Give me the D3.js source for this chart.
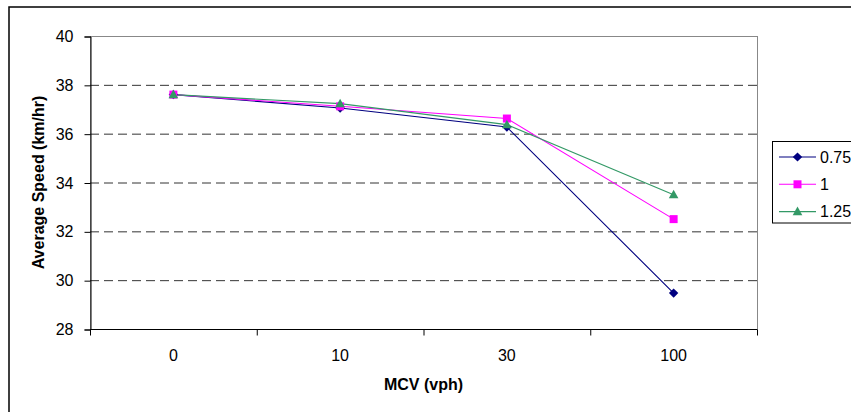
<!DOCTYPE html>
<html><head><meta charset="utf-8">
<script src="https://cdn.jsdelivr.net/npm/d3@7"></script>
<style>body{margin:0;background:#fff}svg{display:block;font-family:"Liberation Sans",Arial,sans-serif}</style>
</head><body><svg id="c" width="851" height="412"></svg>
<script>
const categories = ["0", "10", "30", "100"];
const seriesNames = ["0.75", "1", "1.25"];
const series075 = [37.6, 37.05, 36.27, 29.47];
const series1 = [37.6, 37.12, 36.62, 32.5];
const series125 = [37.6, 37.23, 36.37, 33.5];
const yTicks = [28, 30, 32, 34, 36, 38, 40];
const colors = ["#000080", "#ff00ff", "#339966"];
const allSeries = [series075, series1, series125];

// marker shapes
const markerPaths = [
  "M0,-4.6L4.7,0L0,4.6L-4.7,0Z",
  "M-4,-4H4V4H-4Z",
  "M0,-5L4.8,3.6H-4.8Z"
];

const svg = d3.select("#c");
const L = 90, R = 757, T = 36, B = 329;
const x = d3.scaleBand().domain(categories).range([L, R]).padding(0);
const y = d3.scaleLinear().domain([28, 40]).range([B, T]);

// outer chart border
svg.append("rect").attr("x", 9).attr("y", 7).attr("width", 900).attr("height", 500)
  .attr("fill", "none").attr("stroke", "#000").attr("stroke-width", 1.5);

// plot area border (gray)
svg.append("rect").attr("x", L + 0.5).attr("y", T + 0.5).attr("width", R - L).attr("height", B - T)
  .attr("fill", "#fff").attr("stroke", "#888").attr("stroke-width", 1);

// gridlines
svg.append("g").selectAll("line").data(yTicks.filter(t => t > 28 && t < 40)).join("line")
  .attr("x1", L).attr("x2", R).attr("y1", d => y(d) + 0.5).attr("y2", d => y(d) + 0.5)
  .attr("stroke", "#333").attr("stroke-dasharray", "9,5").attr("stroke-width", 1);

// y axis
const ya = svg.append("g").attr("transform", `translate(${L + 0.5},0.5)`)
  .call(d3.axisLeft(y).tickValues(yTicks).tickSize(6).tickPadding(11));
ya.select(".domain").attr("stroke", "#000");
ya.selectAll("text").attr("font-size", 16).attr("fill", "#000").attr("font-family", "Liberation Sans, Arial");

// x axis
const xa = svg.append("g").attr("transform", `translate(0,${B + 0.5})`);
xa.append("line").attr("x1", L).attr("x2", R).attr("stroke", "#000");
const bounds = categories.map(c => x(c)).concat([R]);
xa.selectAll("line.t").data(bounds).join("line").attr("class", "t")
  .attr("x1", d => d + 0.5).attr("x2", d => d + 0.5).attr("y1", 0).attr("y2", 6).attr("stroke", "#000");
xa.selectAll("text").data(categories).join("text")
  .attr("x", d => x(d) + x.bandwidth() / 2).attr("y", 31)
  .attr("text-anchor", "middle").attr("font-size", 16).text(d => d);

// axis titles
svg.append("text").attr("x", (L + R) / 2).attr("y", 389.5).attr("text-anchor", "middle")
  .attr("font-size", 16).attr("font-weight", "bold").text("MCV (vph)");
svg.append("text").attr("transform", `translate(43.5,${(T + B) / 2}) rotate(-90)`)
  .attr("text-anchor", "middle").attr("font-size", 16).attr("font-weight", "bold")
  .text("Average Speed (km/hr)");

// lines & markers
const cx = c => x(c) + x.bandwidth() / 2;
const line = d3.line().x((d, i) => cx(categories[i])).y(d => y(d));
allSeries.forEach((s, k) => {
  svg.append("path").datum(s).attr("d", line).attr("fill", "none")
    .attr("stroke", colors[k]).attr("stroke-width", 1.1);
});
allSeries.forEach((s, k) => {
  svg.append("g").selectAll("path").data(s).join("path")
    .attr("transform", (d, i) => `translate(${cx(categories[i])},${y(d)})`)
    .attr("d", markerPaths[k]).attr("fill", colors[k]);
});

// legend
const lg = svg.append("g");
lg.append("rect").attr("x", 772.5).attr("y", 141.5).attr("width", 100).attr("height", 81.5)
  .attr("fill", "#fff").attr("stroke", "#000").attr("stroke-width", 1);
seriesNames.forEach((n, k) => {
  const yy = 157 + k * 27.3;
  lg.append("line").attr("x1", 779).attr("x2", 816).attr("y1", yy).attr("y2", yy)
    .attr("stroke", colors[k]).attr("stroke-width", 1.1);
  lg.append("path").attr("transform", `translate(797.5,${yy})`)
    .attr("d", markerPaths[k]).attr("fill", colors[k]);
  lg.append("text").attr("x", 820).attr("y", yy + 5.8).attr("font-size", 16).text(n);
});
</script></body></html>
